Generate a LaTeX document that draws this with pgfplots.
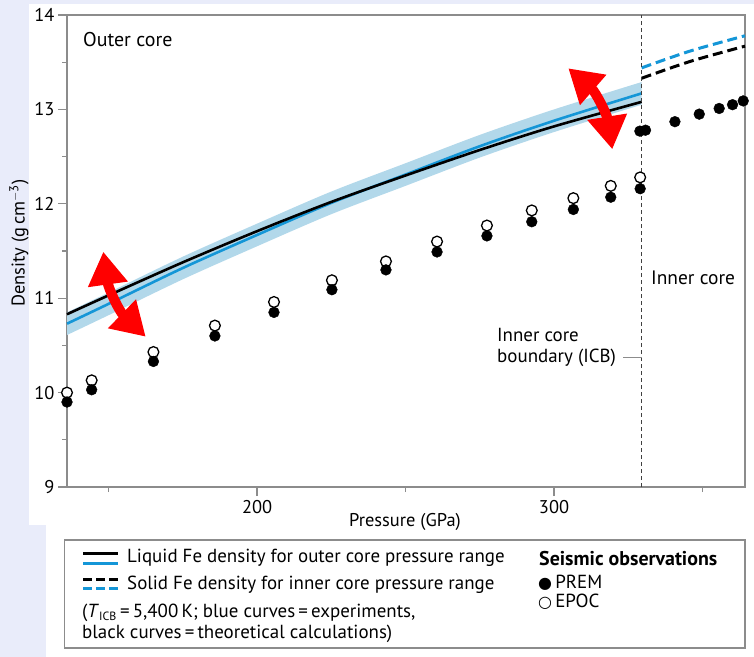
\documentclass[border=0pt]{standalone}
\usepackage{pgfplots}
\pgfplotsset{compat=1.18}
\usepgfplotslibrary{fillbetween}
\usetikzlibrary{arrows.meta}
\usepackage{fontspec}
\setmainfont{PT Sans}
\newfontfamily\symfont{DejaVu Sans}

\definecolor{feblue}{RGB}{20,150,215}
\definecolor{bandblue}{RGB}{178,216,234}
\definecolor{arrred}{RGB}{255,0,0}
\definecolor{axgray}{RGB}{140,140,140}
\definecolor{lav}{RGB}{233,236,250}

% outer core: liquid Fe density (pressure in GPa, density in g/cm^3)
\pgfplotstableread{
P     rho
136   10.83
150   11.03
175   11.38
200   11.71
225   12.02
250   12.30
275   12.57
300   12.82
329.5 13.08
}\liqtheory
\pgfplotstableread{
P     rho    up     lo
136   10.73  10.85  10.61
150   10.94  11.06  10.82
175   11.32  11.44  11.20
200   11.67  11.79  11.55
225   12.01  12.13  11.89
250   12.31  12.43  12.19
275   12.61  12.73  12.49
300   12.88  13.00  12.76
329.5 13.17  13.29  13.05
}\liqexp
% inner core: solid Fe density
\pgfplotstableread{
P     theo   exp
329.5 13.33  13.44
346   13.51  13.62
364.3 13.67  13.78
}\solid
% seismic models
\pgfplotstableread{
P      rho
136.0  9.90
144.3  10.03
165.1  10.33
185.8  10.60
205.7  10.85
225.2  11.09
243.4  11.30
260.6  11.49
277.4  11.66
292.5  11.81
306.5  11.94
319.1  12.07
329.0  12.16
328.9  12.77
330.8  12.78
340.7  12.87
348.9  12.95
355.6  13.01
360.1  13.05
363.7  13.09
}\prem
\pgfplotstableread{
P      rho
136.0  10.00
144.3  10.13
165.1  10.43
185.8  10.71
205.7  10.96
225.2  11.19
243.4  11.39
260.6  11.60
277.4  11.77
292.5  11.93
306.5  12.06
319.1  12.19
329.0  12.28
}\epoc

\begin{document}
\begin{tikzpicture}
\begin{axis}[
  at={(67bp,-487bp)}, anchor=south west,
  scale only axis, width=678bp, height=472bp,
  xmin=136, xmax=364.3, ymin=9, ymax=14,
  axis line style={axgray, line width=1.2bp},
  every tick/.style={axgray, line width=1.2bp},
  tick align=outside, xtick pos=bottom, ytick pos=left,
  major tick length=9bp, minor tick length=5bp,
  xtick={200,300}, minor xtick={150,250,350},
  ytick={9,10,11,12,13,14}, minor ytick={9.5,10.5,11.5,12.5,13.5},
  xticklabel style={font=\fontsize{18.5}{21}\selectfont, yshift=-1bp},
  yticklabel style={font=\fontsize{18.5}{21}\selectfont},
  /pgf/number format/assume math mode=true,
  clip=false,
]
  % uncertainty band of the experimental curve
  \addplot[name path=bandup, draw=none, smooth] table[x=P, y=up] {\liqexp};
  \addplot[name path=bandlo, draw=none, smooth] table[x=P, y=lo] {\liqexp};
  \addplot[bandblue, draw=none] fill between[of=bandup and bandlo];
  % liquid Fe
  \addplot[feblue, line width=2.6bp, smooth, no markers] table[x=P, y=rho] {\liqexp};
  \addplot[black, line width=2.6bp, smooth, no markers] table[x=P, y=rho] {\liqtheory};
  % solid Fe
  \addplot[feblue, line width=3bp, dash pattern=on 10bp off 5bp, smooth, no markers] table[x=P, y=exp] {\solid};
  \addplot[black, line width=3bp, dash pattern=on 10bp off 5bp, smooth, no markers] table[x=P, y=theo] {\solid};
  % ICB
  \draw[black!75, line width=0.9bp, dash pattern=on 4bp off 3bp] (axis cs:329.5,9) -- (axis cs:329.5,14);
  % seismic observations
  \addplot[only marks, mark=*, mark size=5.4bp, mark options={fill=white, draw=black, line width=1.3bp}] table[x=P, y=rho] {\epoc};
  \addplot[only marks, mark=*, mark size=5.4bp, mark options={fill=black, draw=black}] table[x=P, y=rho] {\prem};
\end{axis}

% side tint of the page (kept clear of the tick labels)
\fill[lav] (0bp,0bp) rectangle (754bp,-4bp);
\fill[lav] (0bp,0bp) rectangle (29bp,-657bp);
\fill[lav] (29bp,-525bp) rectangle (46bp,-657bp);

% axis titles
\node[rotate=90, font=\fontsize{18.5}{21}\selectfont] at (19bp,-243bp) {Density (g\,cm\textsuperscript{$-$3})};
\node[font=\fontsize{18.5}{21}\selectfont] at (405bp,-522bp) {Pressure (GPa)};

% region labels
\node[anchor=west, font=\fontsize{20}{23}\selectfont, inner sep=0] at (83bp,-40bp) {Outer core};
\node[anchor=west, font=\fontsize{19.5}{23}\selectfont, inner sep=0] at (651bp,-278bp) {Inner core};
\node[anchor=west, align=left, font=\fontsize{19}{21.6}\selectfont, inner sep=0] at (497bp,-347.5bp) {Inner core\\boundary (ICB)};
\draw[axgray, line width=1bp] (623bp,-357bp) -- (641.5bp,-357bp);

% double arrows
\draw[arrred, line width=10bp, {Triangle[width=38bp,length=33bp]}-{Triangle[width=38bp,length=33bp]}]
  (103.3bp,-251.7bp) to[out=-82,in=136] (145.7bp,-336.7bp);
\draw[arrred, line width=10bp, {Triangle[width=38bp,length=33bp]}-{Triangle[width=38bp,length=33bp]}]
  (568.3bp,-68.3bp) to[out=-41,in=99] (612.3bp,-149.3bp);

% key
\draw[axgray, line width=1.2bp] (64.5bp,-540bp) rectangle (745bp,-648bp);
\draw[black, line width=3bp] (83bp,-553.6bp) -- (118bp,-553.6bp);
\draw[feblue, line width=3bp] (83bp,-563bp) -- (118bp,-563bp);
\draw[black, line width=3bp, dash pattern=on 9bp off 4bp] (83bp,-579bp) -- (118bp,-579bp);
\draw[feblue, line width=3bp, dash pattern=on 9bp off 4bp] (83bp,-588bp) -- (118bp,-588bp);
\begin{scope}[every node/.style={anchor=west, inner sep=0, font=\fontsize{19}{21}\selectfont}]
\node at (127bp,-558bp) {Liquid Fe density for outer core pressure range};
\node at (127bp,-585bp) {Solid Fe density for inner core pressure range};
\node at (82bp,-613bp) {(\textit{T}\textsubscript{\fontsize{12}{13}\selectfont ICB}\,=\,5,400\,K; blue curves\,=\,experiments,};
\node at (82bp,-634bp) {black curves\,=\,theoretical calculations)};
\node[font=\fontsize{20}{22}\selectfont\bfseries] at (539bp,-559bp) {Seismic observations};
\node at (538bp,-583bp) {{\symfont\fontsize{16}{18}\selectfont ●}\,PREM};
\node at (538bp,-602bp) {{\symfont\fontsize{16}{18}\selectfont ○}\,EPOC};
\end{scope}

\pgfresetboundingbox
\path[use as bounding box] (0bp,0bp) rectangle (754bp,-657bp);
\end{tikzpicture}
\end{document}
